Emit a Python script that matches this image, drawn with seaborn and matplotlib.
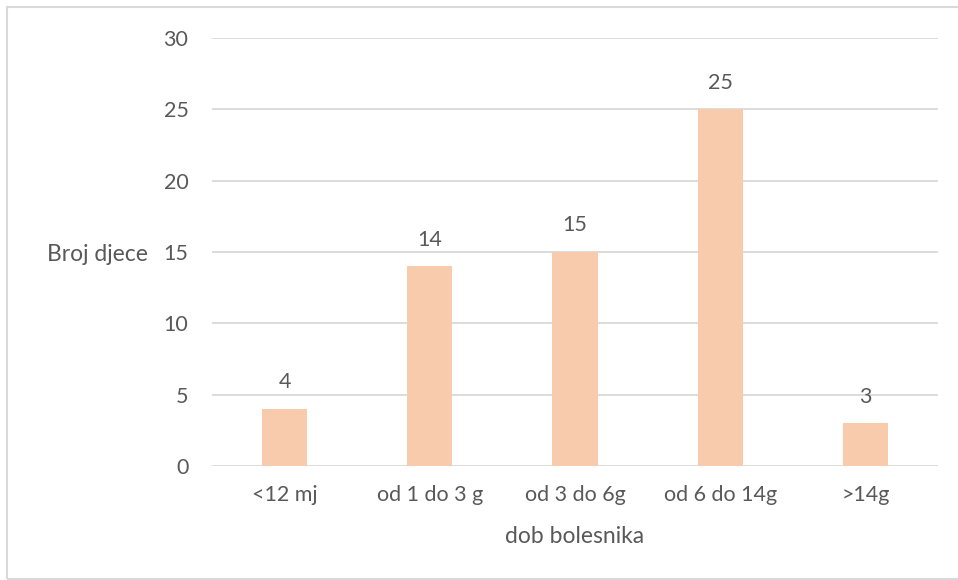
import matplotlib.pyplot as plt
import pandas as pd
import seaborn as sns
from matplotlib.patches import Rectangle

categories = ['<12 mj', 'od 1 do 3 g', 'od 3 do 6g', 'od 6 do 14g', '>14g']
counts = [4, 14, 15, 25, 3]

BAR = '#F8CBAD'
TEXT = '#595959'
GRID = '#D9D9D9'

sns.set_theme(style='white')
plt.rcParams['font.family'] = ['Lato', 'DejaVu Sans']

df = pd.DataFrame({'dob': categories, 'broj': counts})

fig = plt.figure(figsize=(9.58, 5.8), dpi=100)
ax = fig.add_axes([212 / 958, 1 - 466 / 580, 726 / 958, 428 / 580])
sns.barplot(data=df, x='dob', y='broj', color=BAR, width=0.31, saturation=1,
            linewidth=0, ax=ax)

ax.set_ylim(0, 30)
ax.set_yticks(range(0, 31, 5))
ax.grid(axis='y', color=GRID, linewidth=1.3)
ax.set_axisbelow(True)
for s in ax.spines.values():
    s.set_visible(False)
ax.tick_params(axis='y', length=0, pad=17, labelsize=15.5, labelcolor=TEXT)
ax.tick_params(axis='x', length=0, pad=14, labelsize=15.5, labelcolor=TEXT)

ax.bar_label(ax.containers[0], labels=[str(c) for c in counts], padding=12, fontsize=15.5, color=TEXT)

ax.set_xlabel('dob bolesnika', fontsize=16.5, color=TEXT, labelpad=15)
ax.set_ylabel('Broj djece', fontsize=16.5, color=TEXT, rotation=0, ha='right', va='center')
ax.yaxis.set_label_coords(-0.088, 0.493)

# light frame around the chart area, like the Excel export
fig.patches.append(Rectangle((7 / 958, 1 / 580), 1, 572 / 580, transform=fig.transFigure,
                             fill=False, edgecolor=GRID, linewidth=1.5))

fig.savefig('out.png', dpi=100)
